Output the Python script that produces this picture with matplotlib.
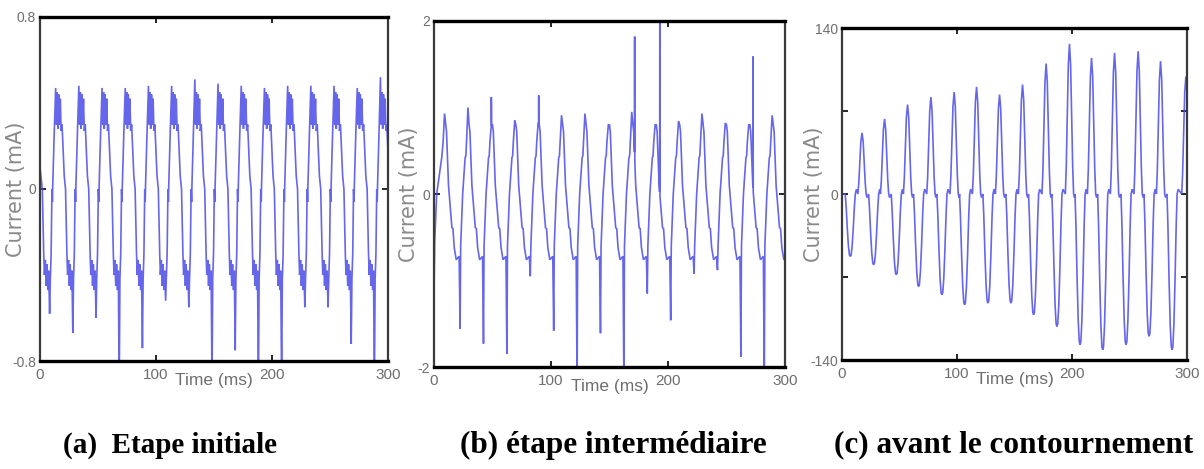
import numpy as np
import matplotlib
matplotlib.use("Agg")
import matplotlib.pyplot as plt

# ---------------- data ----------------
# (a) Etape initiale : one cycle every 20 ms
a_cycle_t = [2, 22, 42, 62, 82, 102, 122, 142, 162, 182, 202, 222, 242, 262, 282]
a_peak = [0.47, 0.48, 0.47, 0.47, 0.48, 0.48, 0.51, 0.49, 0.48, 0.47, 0.48, 0.48, 0.48, 0.47, 0.52]
a_spike = [-0.58, -0.67, -0.60, -0.92, -0.74, -0.52, -0.55, -0.92, -0.75, -0.92, -0.92, -0.55, -0.55, -0.72, -0.92]
# cycle shape (relative time in ms, level in mA; 'P' = peak, 'S' = spike)
a_tpl_t = [0, 1.2, 1.8, 2.6, 3.3, 4.0, 4.8, 5.5, 6.3, 6.9, 7.6, 8.3, 8.7, 9.0, 10.2,
           11.5, 12.1, 12.8, 13.4, 14.1, 14.8, 15.5, 16.2, 17.0, 18.9]
a_tpl_v = [0.0, -0.30, -0.40, -0.33, -0.45, -0.35, -0.47, -0.38, 'S', -0.42, -0.30, 0.0, -0.06, 0.02, 0.25,
           'P', 0.30, 0.45, 0.28, 0.44, 0.30, 0.42, 0.27, 0.30, 0.06]

# (b) étape intermédiaire
b_peak_t = [9, 29, 49, 69, 89, 109, 129, 149, 169, 189, 209, 229, 249, 269, 289]
b_peak = [0.93, 1.00, 0.80, 0.85, 0.82, 0.91, 0.93, 0.80, 0.95, 0.80, 0.84, 0.93, 0.82, 0.80, 0.91]
b_spike = [-1.56, -1.73, -1.85, -0.95, -1.58, -2.20, -1.61, -2.20, -1.15, -1.46, -0.92, -0.88, -1.88, -2.20, -1.00]
b_tpl_t = [0, 1.0, 1.7, 3.4, 6.3, 7.2, 8.3, 10.0, 12.5, 13.3, 13.8, 15.5, 17.6, 18.2, 18.8]
b_tpl_v = ['P', 0.80, 0.72, 0.10, -0.39, -0.40, -0.62, -0.76, -0.72, 'S', -0.60, 0.0, 0.42, 0.44, 0.60]
b_start_t = [0, 0.6, 2.3, 6.6, 7.8]
b_start_v = [-1.15, -0.55, 0.0, 0.42, 0.60]
b_up_t = [49.0, 89.5, 171.5, 193.0, 272.7]
b_up_v = [1.12, 1.14, 1.82, 2.30, 1.59]

# (c) avant le contournement
c_trough_t = [7.2, 27.5, 47.2, 66.6, 86.9, 106.6, 126.9, 146.9, 166.6, 186.9, 207, 226.7, 247, 267, 287]
c_trough = [-52.6, -59.6, -68, -78, -85, -93.4, -92, -92, -101.8, -111.7, -127, -131.4, -127, -120, -131.4]
c_peak_t = [17.4, 37, 57, 77.3, 97.5, 117, 137, 157, 177.5, 197.8, 217, 237, 257.5, 277, 299]
c_peak = [51.5, 63.3, 75.4, 81.7, 86, 90.3, 83.8, 92.3, 110, 126.6, 114.8, 119, 120.4, 112, 99]
c_neg_dt = [-4.4, -3.6, -2.6, -1.6, -0.7, 0, 0.7, 1.6, 2.6, 3.6, 4.4]
c_neg_shape = [0, 0.2, 0.55, 0.84, 0.98, 1.0, 0.98, 0.84, 0.55, 0.2, 0]
c_pos_dt = [-3.6, -2.8, -1.9, -1.0, 0, 1.0, 1.9, 2.8, 3.6]
c_pos_shape = [0, 0.18, 0.52, 0.86, 1.0, 0.86, 0.52, 0.18, 0]
c_bump_after_trough = (5.3, 4.0)
c_bump_after_peak = (4.4, -3.0)

captions = ["(a)  Etape initiale", "(b) étape intermédiaire", "(c) avant le contournement"]


# ---------------- build the traces ----------------
def build_a():
    t, v = [0.0], [0.1]
    for ts, P, S in zip(a_cycle_t, a_peak, a_spike):
        for rt, rv in zip(a_tpl_t, a_tpl_v):
            t.append(ts + rt)
            v.append(P if rv == 'P' else (S if rv == 'S' else rv))
    return np.array(t), np.array(v)


def build_b():
    t, v = list(b_start_t), list(b_start_v)
    for tp, P, S in zip(b_peak_t, b_peak, b_spike):
        for rt, rv in zip(b_tpl_t, b_tpl_v):
            t.append(tp + rt)
            v.append(P if rv == 'P' else (S if rv == 'S' else rv))
    t, v = np.array(t), np.array(v)
    extra_t, extra_v = [], []
    for ut, uv in zip(b_up_t, b_up_v):
        base1 = np.interp(ut - 0.15, t, v)
        base2 = np.interp(ut + 0.15, t, v)
        extra_t += [ut - 0.15, ut, ut + 0.15]
        extra_v += [base1, uv, base2]
    t = np.concatenate([t, extra_t])
    v = np.concatenate([v, extra_v])
    o = np.argsort(t, kind="stable")
    return t[o], v[o]


def build_c():
    t, v = [0.0], [0.0]
    for tt, T, tp, P in zip(c_trough_t, c_trough, c_peak_t, c_peak):
        for d, s in zip(c_neg_dt, c_neg_shape):
            t.append(tt + d)
            v.append(-s * abs(T))
        t.append(tt + c_bump_after_trough[0])
        v.append(c_bump_after_trough[1])
        for d, s in zip(c_pos_dt, c_pos_shape):
            t.append(tp + d)
            v.append(s * P)
        t.append(tp + c_bump_after_peak[0])
        v.append(c_bump_after_peak[1])
    t, v = np.array(t), np.array(v)
    o = np.argsort(t, kind="stable")
    return t[o], v[o]


# ---------------- figure ----------------
plt.rcParams['font.family'] = ['Liberation Sans Narrow', 'Liberation Sans', 'DejaVu Sans']

fig = plt.figure(figsize=(12.04, 4.69), dpi=100)
fig.patch.set_facecolor('white')

axes_pos = [
    [40 / 1204, 108 / 469, 348 / 1204, 344 / 469],
    [434 / 1204, 102 / 469, 351 / 1204, 346 / 469],
    [842 / 1204, 109 / 469, 345 / 1204, 332 / 469],
]
ylims = [(-0.8, 0.8), (-2, 2), (-140, 140)]
yticks = [[-0.8, 0, 0.8], [-2, 0, 2], [-140, -70, 0, 70, 140]]
yticklabels = [['-0.8', '0', '0.8'], ['-2', '0', '2'], ['-140', '', '0', '', '140']]
ylab_x = [-0.068, -0.072, -0.080]
builders = [build_a, build_b, build_c]
line_color = '#4b4be8'
label_gray = '#6e6e6e'

for i in range(3):
    ax = fig.add_axes(axes_pos[i])
    t, v = builders[i]()
    ax.plot(t, v, color=line_color, lw=1.2, alpha=0.85, solid_joinstyle='miter')
    ax.set_xlim(0, 300)
    ax.set_ylim(*ylims[i])
    ax.set_xticks([0, 100, 200, 300])
    ax.set_xticklabels(['0', '100', '200', '300'])
    ax.set_yticks(yticks[i])
    ax.set_yticklabels(yticklabels[i])
    ax.tick_params(direction='in', top=True, right=True, length=4, width=1.2,
                   colors='black', labelcolor=label_gray, labelsize=11, pad=5)
    ax.tick_params(axis='y', labelsize=10, pad=3)
    for side in ['top', 'bottom']:
        ax.spines[side].set_linewidth(2.4)
        ax.spines[side].set_color('black')
    for side in ['left', 'right']:
        ax.spines[side].set_linewidth(1.6)
        ax.spines[side].set_color('#3a3a3a')
    ax.set_xlabel('Time (ms)', fontsize=12.5, color=label_gray)
    ax.xaxis.set_label_coords(0.5, -0.035)
    ax.set_ylabel('Current (mA)', fontsize=15, color='#8a8a8a', family=['DejaVu Sans'])
    ax.yaxis.label.set_va('center')
    ax.yaxis.set_label_coords(ylab_x[i], 0.5)
    ax.set_facecolor('white')

cap_x = [63 / 1204, 460 / 1204, 834 / 1204]
cap_size = [21, 22.5, 22.5]
for x, txt, fs in zip(cap_x, captions, cap_size):
    fig.text(x, 24 / 469, txt, fontsize=fs, fontweight='bold',
             family=['Liberation Serif', 'DejaVu Serif'], ha='left', va='center', color='black')

fig.savefig('out.png', dpi=100, facecolor='white')
